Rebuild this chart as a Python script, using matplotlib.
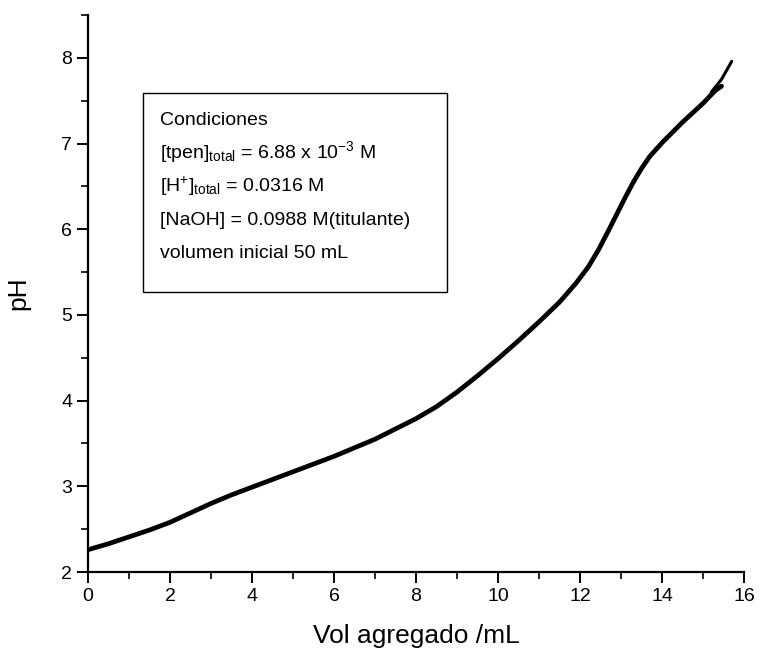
import matplotlib
matplotlib.use("Agg")
import matplotlib.pyplot as plt
from matplotlib.ticker import MultipleLocator

plt.rcParams['font.family'] = ['Liberation Sans', 'DejaVu Sans']
plt.rcParams['mathtext.fontset'] = 'custom'
plt.rcParams['mathtext.rm'] = 'Liberation Sans'
plt.rcParams['mathtext.it'] = 'Liberation Sans'

# Titration curve
vol = [0, 0.5, 1, 1.5, 2, 2.5, 3, 3.5, 4, 5, 6, 7, 7.5, 8, 8.5, 9, 9.5, 10,
       10.5, 11, 11.5, 11.9, 12.2, 12.45, 12.7, 12.9, 13.1, 13.3, 13.5, 13.7,
       14.0, 14.5, 15.0, 15.3, 15.45]
ph = [2.26, 2.33, 2.41, 2.49, 2.58, 2.69, 2.80, 2.90, 2.99, 3.17, 3.35, 3.55,
      3.67, 3.79, 3.93, 4.10, 4.29, 4.49, 4.70, 4.92, 5.15, 5.37, 5.56, 5.76,
      5.99, 6.18, 6.37, 6.55, 6.71, 6.85, 7.01, 7.25, 7.47, 7.62, 7.67]
# short second branch at the end of the trace
vol_tail = [15.2, 15.45, 15.7]
ph_tail = [7.60, 7.75, 7.96]

xticks = [0, 2, 4, 6, 8, 10, 12, 14, 16]
yticks = [2, 3, 4, 5, 6, 7, 8]

legend_lines = [
    "Condiciones",
    r"[tpen]$_{\mathrm{total}}$ = 6.88 x 10$^{\mathrm{-3}}$ M",
    r"[H$^{+}$]$_{\mathrm{total}}$ = 0.0316 M",
    "[NaOH] = 0.0988 M(titulante)",
    "volumen inicial 50 mL",
]

fig = plt.figure(figsize=(7.6, 6.55), dpi=100)
ax = fig.add_axes([0.1158, 0.1267, 0.979 - 0.1158, 0.977 - 0.1267])

ax.plot(vol, ph, color='black', lw=3.4, solid_capstyle='round',
        solid_joinstyle='round')
ax.plot(vol_tail, ph_tail, color='black', lw=2.2, solid_capstyle='round',
        solid_joinstyle='round')

ax.set_xlim(0, 16)
ax.set_ylim(2, 8.5)
ax.set_xticks(xticks)
ax.set_yticks(yticks)
ax.xaxis.set_minor_locator(MultipleLocator(1))
ax.yaxis.set_minor_locator(MultipleLocator(0.5))
for s in ['top', 'right']:
    ax.spines[s].set_visible(False)
for s in ['left', 'bottom']:
    ax.spines[s].set_linewidth(1.6)
ax.tick_params(which='major', direction='out', length=8, width=1.4,
               labelsize=14)
ax.tick_params(which='minor', direction='out', length=5, width=1.2)
ax.set_xlabel("Vol agregado /mL", fontsize=19, labelpad=14)
ax.set_ylabel("pH", fontsize=19, labelpad=22)

# Conditions box
ax.add_patch(plt.Rectangle((1.34, 5.27), 8.76 - 1.34, 7.59 - 5.27,
                           fill=False, edgecolor='black', lw=1.0))
y0 = 7.22
dy = 0.39
for i, t in enumerate(legend_lines):
    ax.text(1.75, y0 - i * dy, t, fontsize=14, va='baseline', ha='left')

fig.savefig("out.png", dpi=100)
